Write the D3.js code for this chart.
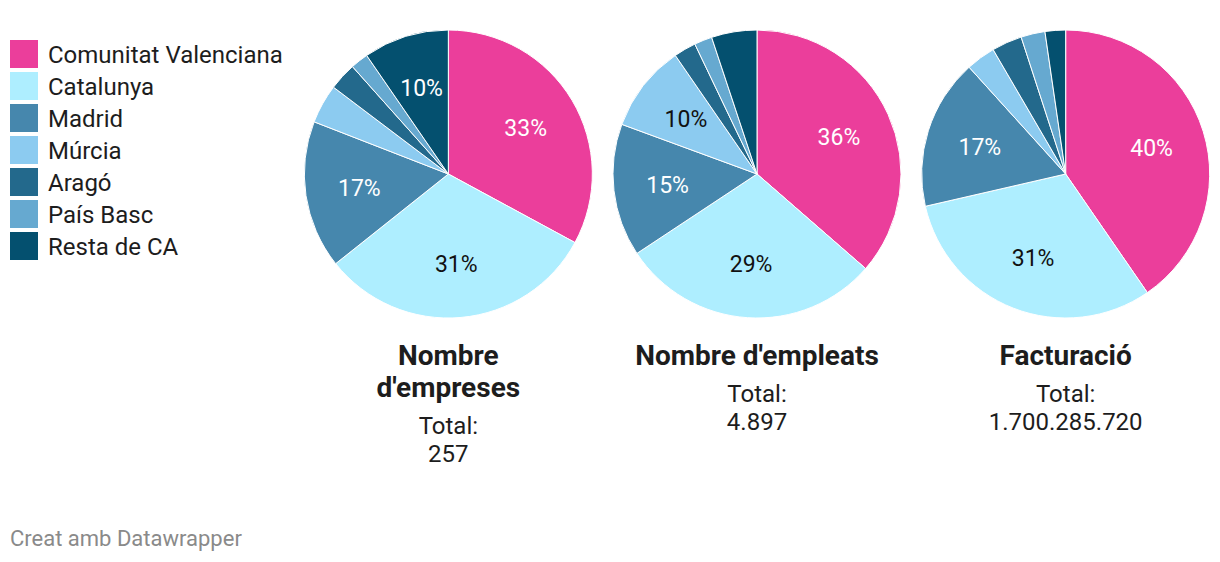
<!DOCTYPE html>
<html>
<head>
<meta charset="utf-8">
<script src="https://cdn.jsdelivr.net/npm/d3@7"></script>
<style>
  body { margin: 0; background: #fff; }
  svg text { font-family: Roboto, "Noto Sans", sans-serif; }
</style>
</head>
<body>
<script>
// regions (legend order = slice order)
var regions = ["Comunitat Valenciana", "Catalunya", "Madrid", "Múrcia", "Aragó", "País Basc", "Resta de CA"];
var colors = ["#eb3e9b", "#aeeeff", "#4687ad", "#8ccbf0", "#23698c", "#66a9d0", "#04506f"];

// share per region (%)
var empreses = [32.9, 31.4, 16.6, 4.4, 3.1, 2.0, 9.6];
var empleats = [36.4, 29.3, 14.9, 9.8, 2.5, 2.0, 5.1];
var facturacio = [40.4, 31.0, 16.9, 3.3, 3.4, 2.7, 2.3];

var titles = [["Nombre", "d'empreses"], ["Nombre d'empleats"], ["Facturació"]];
var totals = ["257", "4.897", "1.700.285.720"];

var W = 1220, H = 562;
var radius = 144, cy = 174;

var svg = d3.select("body").append("svg")
  .attr("width", W)
  .attr("height", H);

var color = d3.scaleOrdinal().domain(regions).range(colors);
var darkText = ["Catalunya", "Múrcia"];

// legend
var legend = svg.append("g").attr("class", "legend");
var item = legend.selectAll("g")
  .data(regions)
  .join("g")
  .attr("transform", (d, i) => "translate(10," + (40 + i * 32) + ")");
item.append("rect")
  .attr("width", 28)
  .attr("height", 28)
  .attr("fill", d => color(d));
item.append("text")
  .attr("x", 38)
  .attr("y", 23)
  .style("font-size", "24px")
  .attr("fill", "#1d1d1d")
  .text(d => d);

// pies
var series = [empreses, empleats, facturacio];
var xPos = d3.scaleBand().domain(d3.range(series.length)).range([294, 1220]);

var pie = d3.pie().sort(null).value(d => d.value);
var arc = d3.arc().innerRadius(0).outerRadius(radius);
var labelArc = d3.arc().innerRadius(radius * 0.625).outerRadius(radius * 0.625);

series.forEach(function(vals, k) {
  var cx = xPos(k) + xPos.bandwidth() / 2;
  var g = svg.append("g").attr("transform", "translate(" + cx + "," + cy + ")");
  var data = regions.map((r, i) => ({ region: r, value: vals[i] }));
  var arcs = pie(data);

  g.selectAll("path")
    .data(arcs)
    .join("path")
    .attr("d", arc)
    .attr("fill", d => color(d.data.region))
    .attr("stroke", "#fff")
    .attr("stroke-width", 1);

  g.selectAll("text.lbl")
    .data(arcs.filter(d => d.data.value >= 9.5))
    .join("text")
    .attr("class", "lbl")
    .attr("transform", d => "translate(" + labelArc.centroid(d) + ")")
    .attr("text-anchor", "middle")
    .attr("dy", "0.36em")
    .style("font-size", "23px")
    .attr("fill", d => darkText.includes(d.data.region) ? "#111" : "#fff")
    .text(d => Math.round(d.data.value) + "%");

  // title + total
  var t = svg.append("g").attr("transform", "translate(" + cx + ",0)");
  var y = 365;
  titles[k].forEach(function(line, j) {
    t.append("text")
      .attr("y", y + j * 32)
      .attr("text-anchor", "middle")
      .style("font-size", "28px")
      .style("font-weight", "bold")
      .attr("fill", "#1d1d1d")
      .text(line);
  });
  var last = y + (titles[k].length - 1) * 32;
  t.append("text")
    .attr("y", last + 37)
    .attr("text-anchor", "middle")
    .style("font-size", "24px")
    .attr("fill", "#1d1d1d")
    .text("Total:");
  t.append("text")
    .attr("y", last + 65)
    .attr("text-anchor", "middle")
    .style("font-size", "24px")
    .attr("fill", "#1d1d1d")
    .text(totals[k]);
});

// footer
svg.append("text")
  .attr("x", 10)
  .attr("y", 546)
  .style("font-size", "22px")
  .attr("fill", "#8a8a8a")
  .text("Creat amb Datawrapper");
</script>
</body>
</html>
